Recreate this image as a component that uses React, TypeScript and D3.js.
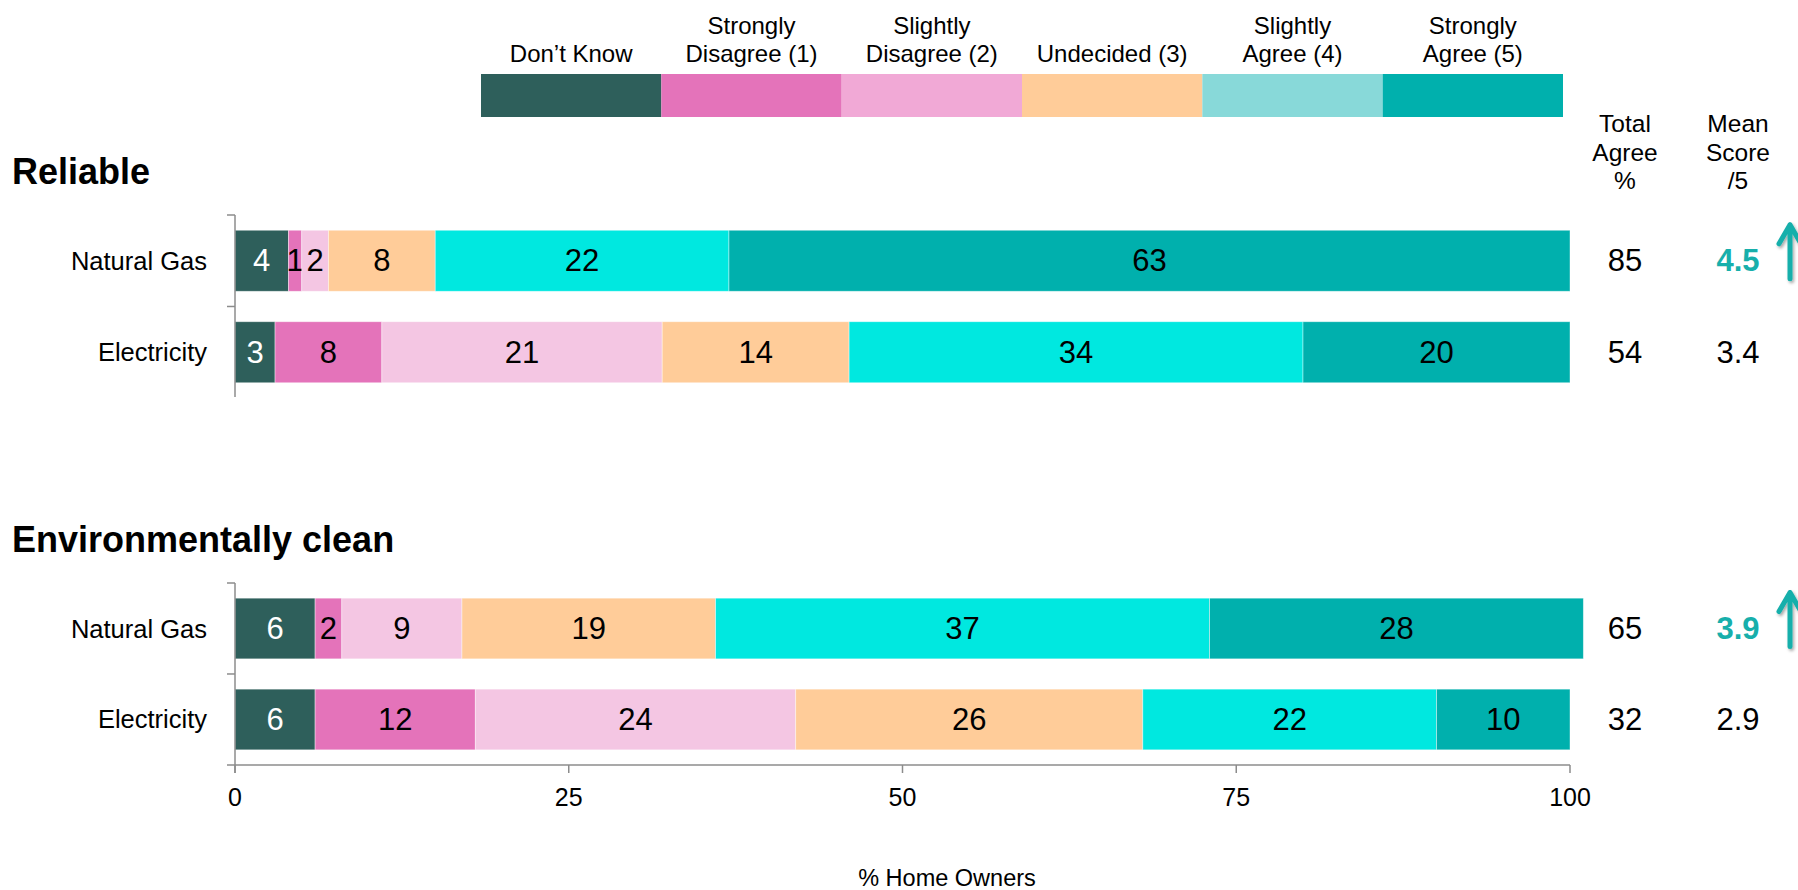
import React, { useEffect } from "react";
import * as d3 from "d3";

// Response scale, in stacking order
const responseKeys = ["dk", "sd", "sld", "und", "sla", "sta"];
const legendLines = [
  ["Don’t Know"],
  ["Strongly", "Disagree (1)"],
  ["Slightly", "Disagree (2)"],
  ["Undecided (3)"],
  ["Slightly", "Agree (4)"],
  ["Strongly", "Agree (5)"],
];
const legendColors = ["#2E5F5B", "#E473BA", "#F1A9D6", "#FFCC99", "#88D9D9", "#00B0AD"];
const barColors = ["#2E5F5B", "#E473BA", "#F4C6E3", "#FFCC99", "#00E8E0", "#00B0AD"];
const labelColors = ["#ffffff", "#000000", "#000000", "#000000", "#000000", "#000000"];

const fuels = ["Natural Gas", "Electricity"];

// Reliable
const reliableNaturalGas = [4, 1, 2, 8, 22, 63];
const reliableElectricity = [3, 8, 21, 14, 34, 20];
const reliableTotalAgree = [85, 54];
const reliableMeanScore = ["4.5", "3.4"];
const reliableSignificantUp = [true, false];

// Environmentally clean
const cleanNaturalGas = [6, 2, 9, 19, 37, 28];
const cleanElectricity = [6, 12, 24, 26, 22, 10];
const cleanTotalAgree = [65, 32];
const cleanMeanScore = ["3.9", "2.9"];
const cleanSignificantUp = [true, false];

const xTicks = [0, 25, 50, 75, 100];

const W = 1798;
const H = 890;
const FONT = "'Liberation Sans', Arial, Helvetica, sans-serif";
const AXIS = "#8c8c8c";
const TEAL = "#17AFAB";

const x = d3.scaleLinear().domain([0, 100]).range([235, 1570]);
const totalX = 1625;
const meanX = 1738;
const arrowX = 1790;

type Panel = {
  title: string;
  titleY: number;
  top: number;
  bottom: number;
  rows: number[][];
  total: number[];
  mean: string[];
  up: boolean[];
  xAxis: boolean;
};

const panels: Panel[] = [
  {
    title: "Reliable",
    titleY: 184,
    top: 215,
    bottom: 398,
    rows: [reliableNaturalGas, reliableElectricity],
    total: reliableTotalAgree,
    mean: reliableMeanScore,
    up: reliableSignificantUp,
    xAxis: false,
  },
  {
    title: "Environmentally clean",
    titleY: 552,
    top: 583,
    bottom: 765,
    rows: [cleanNaturalGas, cleanElectricity],
    total: cleanTotalAgree,
    mean: cleanMeanScore,
    up: cleanSignificantUp,
    xAxis: true,
  },
];

function Legend() {
  const lx = d3.scaleBand().domain(responseKeys).range([481, 1563]).padding(0);
  return (
    <g>
      {responseKeys.map((k, i) => {
        const x0 = lx(k) as number;
        const cx = x0 + lx.bandwidth() / 2;
        const lines = legendLines[i];
        return (
          <g key={k}>
            <rect x={x0} y={74} width={lx.bandwidth()} height={43} fill={legendColors[i]} />
            {lines.map((t, j) => (
              <text
                key={j}
                x={cx}
                y={62 - (lines.length - 1 - j) * 28}
                textAnchor="middle"
                fontSize={24}
                fontFamily={FONT}
                fill="#000"
              >
                {t}
              </text>
            ))}
          </g>
        );
      })}
    </g>
  );
}

function Arrow({ cx, cy }: { cx: number; cy: number }) {
  const tip = cy - 36;
  const base = cy + 18;
  const path = d3.path();
  path.moveTo(cx, base);
  path.lineTo(cx, tip);
  path.moveTo(cx - 11, tip + 19);
  path.lineTo(cx, tip);
  path.lineTo(cx + 11, tip + 19);
  return (
    <path
      d={path.toString()}
      fill="none"
      stroke={TEAL}
      strokeWidth={5}
      strokeLinecap="round"
      strokeLinejoin="round"
      filter="url(#arrowShadow)"
    />
  );
}

function PanelView({ p }: { p: Panel }) {
  const y = d3
    .scaleBand<string>()
    .domain(fuels)
    .range([p.top, p.bottom])
    .paddingInner(0.333)
    .paddingOuter(0.1667);
  const step = y.step();
  const axisBottom = p.xAxis ? p.bottom + 8 : p.bottom - 1;
  return (
    <g>
      <text x={12} y={p.titleY} fontSize={36} fontWeight="bold" fontFamily={FONT} fill="#000">
        {p.title}
      </text>
      {fuels.map((f, r) => {
        const vals = p.rows[r];
        const stacked = d3.cumsum(vals);
        const by = y(f) as number;
        const bh = y.bandwidth();
        const cy = by + bh / 2;
        return (
          <g key={f}>
            <text
              x={207}
              y={cy}
              textAnchor="end"
              dominantBaseline="central"
              fontSize={25.5}
              fontFamily={FONT}
              fill="#000"
            >
              {f}
            </text>
            {vals.map((v, i) => {
              const x0 = x(stacked[i] - v);
              const x1 = x(stacked[i]);
              return (
                <g key={i}>
                  <rect
                    x={x0}
                    y={by}
                    width={x1 - x0}
                    height={bh}
                    fill={barColors[i]}
                    stroke="#ffffff"
                    strokeOpacity={0.5}
                    strokeWidth={0.8}
                  />
                  <text
                    x={(x0 + x1) / 2}
                    y={cy}
                    textAnchor="middle"
                    dominantBaseline="central"
                    fontSize={31}
                    fontFamily={FONT}
                    fill={labelColors[i]}
                  >
                    {v}
                  </text>
                </g>
              );
            })}
            <text
              x={totalX}
              y={cy}
              textAnchor="middle"
              dominantBaseline="central"
              fontSize={31}
              fontFamily={FONT}
              fill="#000"
            >
              {p.total[r]}
            </text>
            <text
              x={meanX}
              y={cy}
              textAnchor="middle"
              dominantBaseline="central"
              fontSize={31}
              fontWeight={p.up[r] ? "bold" : "normal"}
              fontFamily={FONT}
              fill={p.up[r] ? TEAL : "#000"}
            >
              {p.mean[r]}
            </text>
            {p.up[r] && <Arrow cx={arrowX} cy={cy} />}
          </g>
        );
      })}
      {/* category axis with ticks at band boundaries */}
      <line x1={235} x2={235} y1={p.top} y2={axisBottom} stroke={AXIS} strokeWidth={1.5} />
      {d3.range(fuels.length).map((i) => (
        <line
          key={i}
          x1={227}
          x2={235}
          y1={p.top + i * step}
          y2={p.top + i * step}
          stroke={AXIS}
          strokeWidth={1.5}
        />
      ))}
      {p.xAxis && (
        <g>
          <line x1={227} x2={x(100)} y1={p.bottom} y2={p.bottom} stroke={AXIS} strokeWidth={1.5} />
          {xTicks.map((t) => (
            <g key={t}>
              <line x1={x(t)} x2={x(t)} y1={p.bottom} y2={p.bottom + 8} stroke={AXIS} strokeWidth={1.5} />
              <text
                x={x(t)}
                y={p.bottom + 41}
                textAnchor="middle"
                fontSize={25}
                fontFamily={FONT}
                fill="#000"
              >
                {t}
              </text>
            </g>
          ))}
        </g>
      )}
    </g>
  );
}

export default function App() {
  useEffect(() => {
    document.body.style.margin = "0";
    document.body.style.overflow = "hidden";
  }, []);
  const headers = [
    { cx: totalX, lines: ["Total", "Agree", "%"] },
    { cx: meanX, lines: ["Mean", "Score", "/5"] },
  ];
  return (
    <svg
      width={W}
      height={H}
      viewBox={`0 0 ${W} ${H}`}
      style={{ position: "absolute", left: 0, top: 0, background: "#fff" }}
    >
      <defs>
        <filter id="arrowShadow" x="-100%" y="-20%" width="300%" height="150%">
          <feDropShadow dx="1.5" dy="2" stdDeviation="1.5" floodColor="#000" floodOpacity="0.35" />
        </filter>
      </defs>
      <rect x={0} y={0} width={W} height={H} fill="#fff" />
      <Legend />
      {headers.map((h) => (
        <g key={h.cx}>
          {h.lines.map((t, j) => (
            <text
              key={j}
              x={h.cx}
              y={132 + j * 28.5}
              textAnchor="middle"
              fontSize={24.5}
              fontFamily={FONT}
              fill="#000"
            >
              {t}
            </text>
          ))}
        </g>
      ))}
      {panels.map((p) => (
        <PanelView key={p.title} p={p} />
      ))}
      <text x={947} y={886} textAnchor="middle" fontSize={23.5} fontFamily={FONT} fill="#000">
        % Home Owners
      </text>
    </svg>
  );
}
